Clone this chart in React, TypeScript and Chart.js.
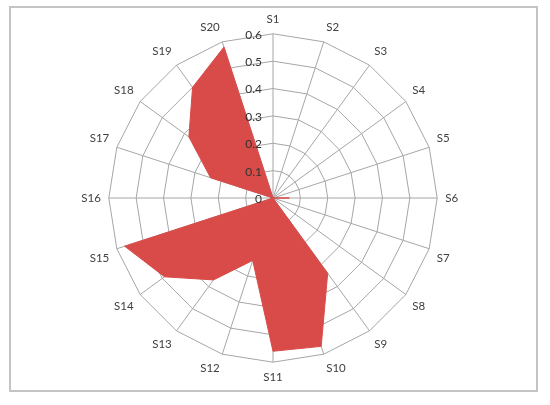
import React, { useEffect, useRef } from "react";
import { Chart, registerables } from "chart.js";

Chart.register(...registerables);

const categories = [
  "S1", "S2", "S3", "S4", "S5", "S6", "S7", "S8", "S9", "S10",
  "S11", "S12", "S13", "S14", "S15", "S16", "S17", "S18", "S19", "S20",
];
const seriesValues = [
  0, 0, 0, 0, 0, 0.06, 0, 0, 0.34, 0.57,
  0.56, 0.24, 0.37, 0.49, 0.57, 0, 0.24, 0.38, 0.5, 0.58,
];
const tickValues = [0, 0.1, 0.2, 0.3, 0.4, 0.5, 0.6];
const tickLabels = ["0", "0.1", "0.2", "0.3", "0.4", "0.5", "0.6"];

const FONT = "Lato, 'Open Sans', sans-serif";

const tickLabelPlugin = {
  id: "leftTickLabels",
  afterDraw(chart: any) {
    const scale = chart.scales.r;
    const ctx = chart.ctx;
    ctx.save();
    ctx.font = `12px ${FONT}`;
    ctx.fillStyle = "#333333";
    ctx.textAlign = "right";
    ctx.textBaseline = "middle";
    tickValues.forEach((v, i) => {
      const d = scale.getDistanceFromCenterForValue(v);
      ctx.fillText(tickLabels[i], scale.xCenter - 11, scale.yCenter - d + 1);
    });
    ctx.restore();
  },
};

export default function App() {
  const ref = useRef<HTMLCanvasElement | null>(null);
  useEffect(() => {
    if (!ref.current) return;
    const chart = new Chart(ref.current, {
      type: "radar",
      data: {
        labels: categories,
        datasets: [
          {
            data: seriesValues,
            backgroundColor: "#d94b48",
            borderColor: "#d94b48",
            borderWidth: 1,
            pointRadius: 0,
            fill: true,
          },
        ],
      },
      options: {
        responsive: false,
        animation: false,
        layout: { padding: { top: 13, bottom: 20, left: 0, right: 3 } },
        plugins: { legend: { display: false }, tooltip: { enabled: false } },
        scales: {
          r: {
            z: 1,
            min: 0,
            max: 0.6,
            beginAtZero: true,
            ticks: { stepSize: 0.1, display: false },
            grid: { color: "#a6a6a6", lineWidth: 1 },
            angleLines: { color: "#a6a6a6", lineWidth: 1 },
            pointLabels: {
              color: "#404040",
              font: { size: 11.5, family: FONT },
              padding: 8,
            },
          },
        },
      },
      plugins: [tickLabelPlugin],
    });
    return () => chart.destroy();
  }, []);
  return (
    <div style={{ position: "absolute", left: 0, top: 0, width: 550, height: 405, background: "#fff" }}>
      <div
        style={{
          position: "absolute",
          left: 9,
          top: 6,
          width: 529,
          height: 386,
          border: "2px solid #c4c4c4",
          boxSizing: "border-box",
        }}
      />
      <canvas
        ref={ref}
        width={550}
        height={405}
        style={{ position: "absolute", left: 0, top: 0, width: 550, height: 405 }}
      />
    </div>
  );
}
